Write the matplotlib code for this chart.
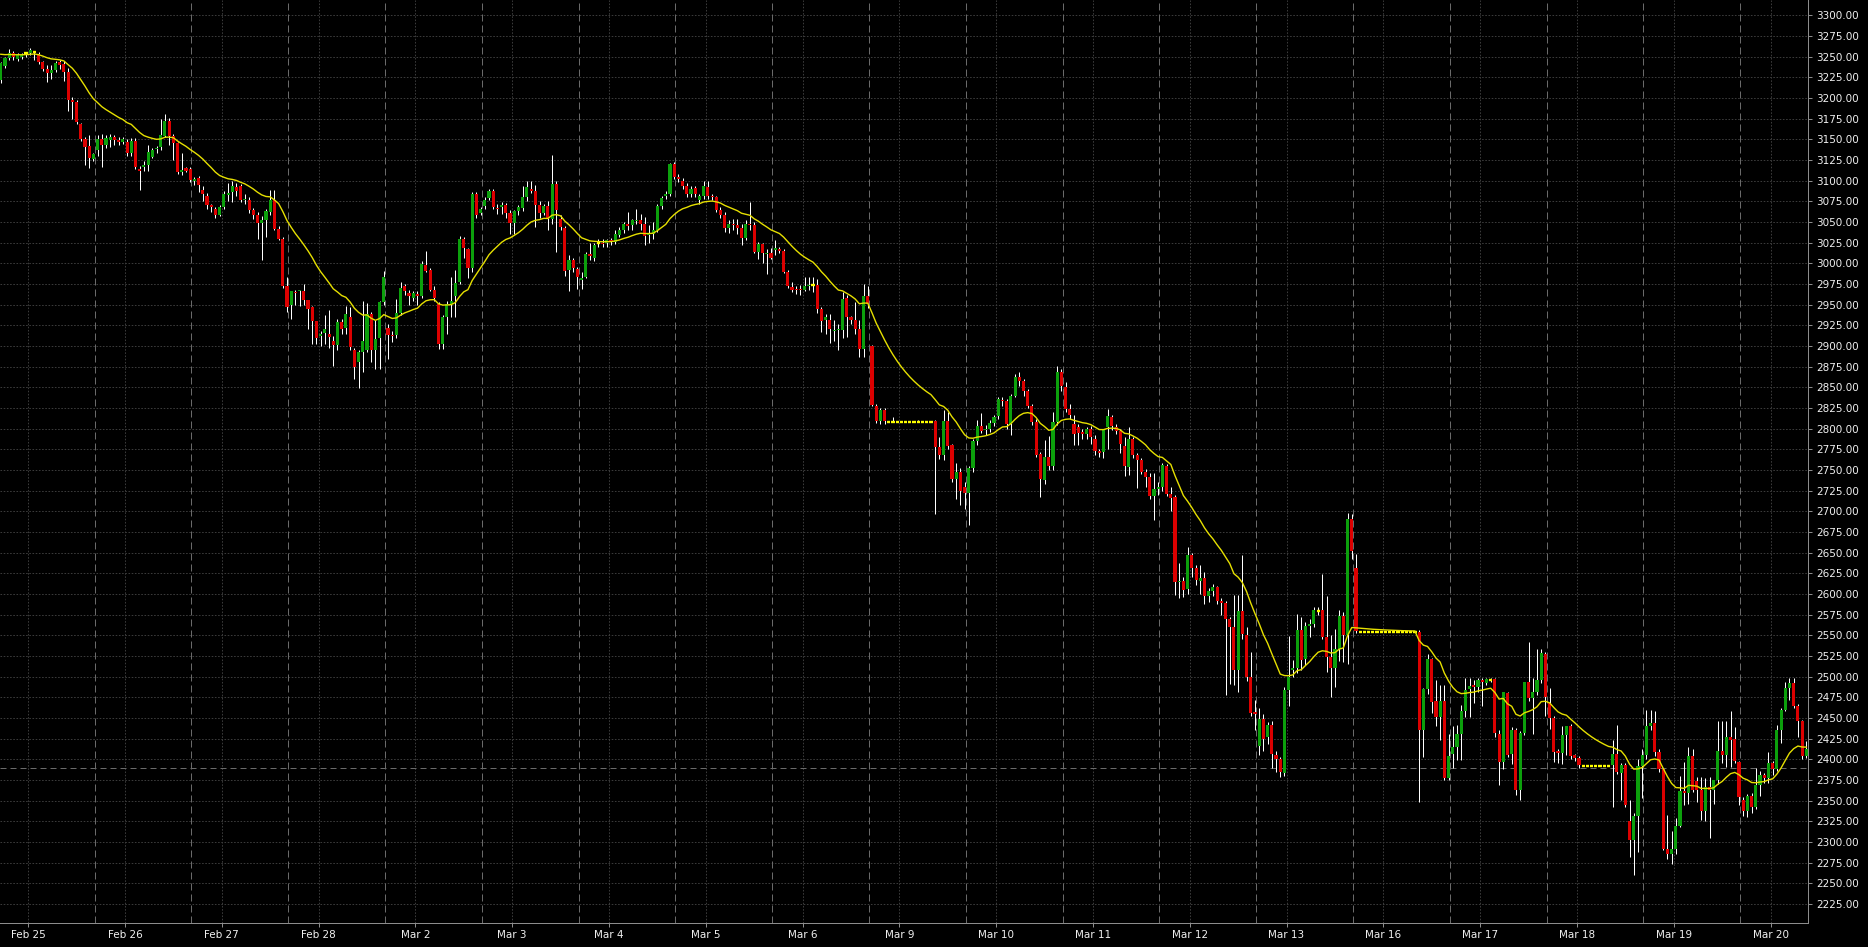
import numpy as np
import matplotlib
matplotlib.use("Agg")
import matplotlib.pyplot as plt
from matplotlib.collections import LineCollection

plt.rcParams['font.family'] = ['DejaVu Sans']
plt.rcParams['lines.scale_dashes'] = False

# ---------------- data (hourly bars, 23 per session) ----------------
day_labels = ["Feb 25", "Feb 26", "Feb 27", "Feb 28", "Mar 2", "Mar 3", "Mar 4",
              "Mar 5", "Mar 6", "Mar 9", "Mar 10", "Mar 11", "Mar 12", "Mar 13",
              "Mar 16", "Mar 17", "Mar 18", "Mar 19", "Mar 20"]
bars_per_day = 23

F1 = [2808.3] * 11
F2 = [2554] * 14
F3 = [2392.3] * 7

open_ = (
    [3222,3239,3248,3254,3247,3249,3254,3254,3255,3253,3243,3235,3230,3234,3243,3241,3231,3198,3195,3169,3150,3142,3126] +
    [3137,3150,3143,3149,3153,3149,3147,3147,3133,3148,3114,3116,3119,3129,3138,3141,3154,3172,3154,3145,3111,3115,3114] +
    [3100,3103,3089,3082,3070,3066,3058,3068,3083,3086,3092,3093,3076,3077,3065,3059,3049,3052,3062,3076,3042,3030,2972] +
    [2950,2965,2966,2967,2956,2947,2930,2912,2916,2915,2906,2901,2929,2922,2935,2895,2881,2893,2895,2939,2895,2910,2953] +
    [2922,2913,2913,2940,2972,2964,2958,2963,2960,2998,2992,2968,2951,2903,2935,2951,2960,2978,3029,3017,2994,3084,3061] +
    [3069,3079,3087,3067,3068,3071,3061,3049,3063,3067,3080,3090,3088,3070,3061,3069,3053,3096,3053,3043,2992,3004,2993] +
    [2980,2984,3011,3007,3024,3025,3024,3028,3026,3034,3040,3047,3046,3051,3052,3047,3034,3036,3040,3069,3082,3084,3120] +
    [3104,3099,3094,3084,3091,3077,3082,3092,3082,3080,3065,3059,3043,3047,3046,3043,3031,3048,3046,3014,3023,3011,3013] +
    [3016,3017,3015,2990,2971,2969,2969,2968,2972,2974,2974,2945,2932,2932,2918,2919,2919,2958,2935,2931,2920,2896,2960] +
    [2900,2828,2809,2822] + F1 + [2809,2778,2768,2809,2780,2739,2748,2730] +
    [2722,2752,2785,2803,2798,2800,2807,2815,2835,2833,2806,2840,2862,2858,2845,2827,2808,2769,2738,2766,2755,2808,2868] +
    [2850,2824,2806,2802,2796,2794,2799,2788,2773,2772,2802,2814,2802,2797,2779,2754,2787,2768,2762,2748,2742,2718,2727] +
    [2730,2755,2721,2717,2614,2616,2606,2647,2632,2616,2619,2597,2604,2608,2591,2589,2570,2560,2508,2580,2550,2500,2457] +
    [2416,2449,2427,2442,2405,2400,2383,2484,2508,2510,2556,2521,2561,2564,2580,2581,2548,2524,2510,2533,2573,2550,2691] +
    [2631] + F2 + [2554,2435,2485,2521,2470,2451,2471,2377] +
    [2406,2415,2431,2458,2485,2490,2487,2496,2492,2496,2497,2431,2397,2480,2406,2436,2363,2432,2493,2474,2481,2496,2528] +
    [2468,2450,2410,2408,2429,2440,2405,2402] + F3 + [2393,2406,2384,2393,2326,2302,2331,2392] +
    [2405,2440,2444,2409,2388,2292,2285,2292,2319,2362,2359,2404,2374,2363,2338,2366,2363,2375,2410,2405,2427,2425,2397] +
    [2351,2337,2356,2342,2369,2381,2377,2395,2388,2436,2460,2486,2492,2464,2446,2404]
)

high = (
    [3244,3250,3259,3257,3254,3254,3256,3260,3257,3255,3245,3240,3240,3245,3246,3245,3236,3201,3197,3170,3153,3155,3134] +
    [3155,3157,3155,3157,3155,3153,3153,3150,3151,3151,3118,3124,3143,3140,3142,3174,3181,3176,3157,3147,3133,3117,3116] +
    [3104,3106,3093,3085,3072,3068,3070,3087,3097,3099,3097,3096,3084,3080,3067,3062,3057,3066,3089,3089,3045,3032,2984] +
    [2967,2968,2968,2975,2956,2948,2930,2918,2938,2944,2912,2933,2933,2948,2947,2897,2895,2954,2952,2941,2932,2955,2991] +
    [2927,2918,2957,2978,2975,2968,2966,2966,3003,3015,2994,2972,2953,2938,2955,2984,2992,3033,3032,3018,3086,3086,3068] +
    [3080,3090,3090,3072,3074,3073,3065,3065,3070,3093,3100,3100,3095,3075,3072,3075,3131,3099,3058,3045,3010,3006,2995] +
    [2990,3014,3024,3025,3030,3029,3030,3031,3040,3044,3050,3062,3054,3066,3060,3056,3046,3050,3072,3082,3088,3121,3122] +
    [3108,3103,3097,3094,3094,3084,3100,3100,3084,3082,3068,3062,3052,3054,3053,3048,3052,3074,3050,3026,3025,3017,3018] +
    [3028,3020,3017,2992,2978,2972,2974,2984,2984,2984,2981,2947,2939,2939,2932,2927,2965,2962,2936,2953,2932,2975,2972] +
    [2901,2830,2825,2825] + [2808.3,2814,2808.3,2808.3,2808.3,2808.3,2808.3,2811,2808.3,2808.3,2808.3] +
    [2810,2790,2823,2820,2782,2759,2752,2735] +
    [2755,2788,2811,2819,2805,2810,2817,2838,2838,2836,2842,2866,2868,2860,2848,2830,2812,2772,2786,2791,2820,2876,2872] +
    [2856,2830,2817,2806,2800,2802,2803,2792,2776,2800,2824,2816,2806,2800,2790,2802,2790,2771,2764,2751,2746,2746,2736] +
    [2758,2757,2730,2720,2637,2620,2657,2650,2635,2635,2627,2607,2612,2610,2595,2592,2572,2599,2599,2647,2560,2530,2472] +
    [2462,2455,2445,2446,2410,2403,2488,2549,2520,2576,2572,2566,2570,2584,2584,2624,2597,2550,2558,2581,2578,2698,2697] +
    [2649] + F2 + [2556,2486,2527,2523,2496,2490,2490,2431] +
    [2440,2441,2466,2498,2498,2496,2499,2498,2499,2499,2498,2435,2482,2482,2439,2438,2434,2494,2542,2498,2533,2534,2530] +
    [2486,2452,2412,2440,2440,2443,2407,2404] + F3 + [2424,2442,2396,2396,2351,2335,2401,2413] +
    [2460,2460,2458,2412,2389,2333,2313,2329,2380,2397,2415,2412,2379,2379,2377,2379,2375,2447,2446,2446,2458,2439,2398] +
    [2355,2358,2359,2389,2386,2384,2409,2398,2442,2462,2494,2498,2498,2467,2448,2422]
)

low = (
    [3218,3236,3246,3246,3245,3247,3250,3252,3246,3241,3233,3219,3223,3231,3235,3220,3184,3175,3169,3148,3119,3115,3124] +
    [3130,3117,3140,3141,3143,3143,3144,3130,3130,3114,3089,3112,3112,3127,3134,3137,3153,3143,3125,3108,3107,3110,3098] +
    [3095,3086,3075,3066,3062,3055,3057,3066,3075,3074,3082,3074,3072,3061,3053,3030,3004,3032,3058,3040,3028,2970,2941] +
    [2933,2950,2948,2949,2921,2903,2903,2900,2902,2897,2876,2895,2914,2914,2895,2860,2849,2868,2893,2881,2872,2872,2950] +
    [2884,2905,2910,2938,2962,2950,2954,2950,2958,2990,2966,2954,2896,2896,2915,2935,2935,2975,3007,2982,2990,3055,3058] +
    [3066,3077,3066,3060,3060,3055,3036,3036,3058,3063,3075,3085,3044,3055,3058,3040,3048,3014,3040,2985,2966,2990,2969] +
    [2969,2982,3004,3003,3020,3020,3020,3022,3023,3032,3037,3040,3040,3048,3040,3022,3025,3030,3038,3066,3078,3082,3102] +
    [3098,3090,3080,3080,3080,3072,3078,3078,3076,3062,3055,3038,3037,3040,3035,3022,3028,3040,3012,3005,3000,2987,3005] +
    [3010,3012,2988,2970,2965,2963,2962,2966,2968,2965,2940,2917,2915,2904,2906,2895,2910,2911,2926,2915,2887,2887,2946] +
    [2828,2807,2806,2806] + F1 + [2697,2763,2762,2775,2735,2715,2708,2703] +
    [2683,2748,2780,2795,2792,2796,2803,2812,2828,2800,2792,2838,2852,2840,2825,2805,2766,2717,2733,2750,2750,2805,2845] +
    [2820,2812,2780,2780,2787,2788,2781,2768,2766,2765,2776,2798,2793,2770,2743,2744,2765,2728,2745,2729,2715,2689,2720] +
    [2725,2718,2701,2599,2595,2596,2600,2620,2611,2600,2588,2590,2598,2588,2575,2478,2491,2490,2482,2545,2495,2452,2435] +
    [2405,2410,2418,2389,2385,2379,2380,2464,2500,2505,2508,2514,2548,2560,2575,2545,2506,2476,2488,2519,2518,2515,2642] +
    [2553] + F2 + [2349,2403,2479,2456,2440,2424,2375,2375] +
    [2389,2399,2399,2451,2451,2468,2482,2464,2490,2493,2427,2369,2388,2403,2394,2357,2351,2430,2470,2431,2478,2492,2453] +
    [2437,2397,2396,2394,2405,2400,2398,2390] + F3 + [2342,2382,2351,2342,2282,2260,2288,2353] +
    [2400,2435,2404,2385,2290,2279,2274,2286,2318,2345,2346,2360,2349,2327,2326,2305,2346,2370,2395,2391,2391,2396,2345] +
    [2331,2330,2335,2340,2356,2372,2371,2381,2386,2420,2458,2472,2462,2427,2400,2402]
)

close = (
    [3242,3248,3254,3250,3252,3252,3254,3258,3255,3244,3235,3230,3234,3242,3240,3232,3197,3195,3171,3150,3141,3127,3132] +
    [3150,3143,3152,3153,3149,3147,3150,3134,3148,3116,3112,3119,3135,3137,3139,3155,3172,3154,3145,3110,3113,3112,3101] +
    [3102,3095,3084,3070,3068,3058,3068,3084,3085,3094,3088,3077,3078,3065,3059,3049,3052,3063,3076,3042,3030,2972,2947] +
    [2966,2964,2967,2956,2945,2930,2910,2915,2920,2911,2901,2929,2920,2939,2899,2875,2893,2906,2939,2895,2908,2953,2983] +
    [2913,2912,2940,2970,2966,2960,2964,2961,2999,2991,2968,2958,2903,2935,2951,2954,2976,3029,3019,2994,3084,3059,3066] +
    [3077,3088,3068,3066,3071,3061,3049,3063,3068,3080,3092,3088,3071,3061,3069,3053,3096,3065,3044,2991,3004,2994,2983] +
    [2982,3011,3009,3022,3024,3023,3028,3026,3035,3040,3047,3045,3052,3052,3047,3033,3036,3040,3069,3079,3084,3120,3105] +
    [3102,3094,3084,3090,3084,3081,3094,3081,3080,3065,3059,3043,3048,3046,3043,3031,3048,3046,3014,3023,3012,3013,3007] +
    [3018,3015,2990,2973,2968,2968,2968,2973,2974,2974,2945,2930,2935,2920,2919,2920,2957,2935,2932,2921,2896,2960,2951] +
    [2829,2809,2822,2809] + F1 + [2778,2768,2809,2779,2739,2748,2724,2722] +
    [2752,2785,2803,2797,2800,2807,2814,2836,2833,2806,2840,2862,2858,2845,2827,2808,2768,2739,2766,2755,2808,2868,2852] +
    [2824,2816,2794,2795,2794,2799,2790,2773,2771,2798,2815,2803,2797,2782,2755,2787,2768,2762,2748,2741,2718,2727,2730] +
    [2756,2721,2716,2614,2616,2605,2647,2632,2617,2619,2597,2604,2609,2591,2589,2570,2560,2508,2580,2552,2500,2456,2455] +
    [2449,2425,2442,2407,2400,2385,2484,2500,2511,2556,2520,2561,2564,2581,2580,2548,2524,2510,2533,2573,2550,2691,2652] +
    [2555] + F2 + [2435,2485,2521,2469,2451,2471,2377,2404] +
    [2415,2431,2458,2484,2489,2487,2496,2493,2497,2496,2432,2397,2481,2405,2436,2363,2432,2493,2474,2481,2496,2529,2475] +
    [2450,2409,2408,2429,2440,2404,2402,2393] + F3 + [2406,2385,2393,2345,2302,2331,2392,2405] +
    [2440,2444,2409,2388,2292,2285,2292,2319,2362,2359,2404,2363,2363,2338,2366,2363,2375,2410,2405,2427,2424,2398,2355] +
    [2337,2356,2342,2369,2381,2378,2395,2388,2436,2460,2486,2492,2464,2446,2404,2413]
)

ma_period = 20
ma_seed = 3254          # MA value at the left edge of the chart
ref_line_price = 2389   # grey dashed horizontal level
price_ticks = list(range(2225, 3301, 25))

# ---------------- drawing ----------------
o = np.array(open_, float)
c = np.array(close, float)
h = np.maximum(np.array(high, float), np.maximum(o, c))
l = np.minimum(np.array(low, float), np.minimum(o, c))
n = len(o)
x = np.arange(n)

W, H = 1868, 947
fig = plt.figure(figsize=(W / 100, H / 100), dpi=100, facecolor='black')
ax_bottom_px = 923.3
ax = fig.add_axes([0, (H - ax_bottom_px) / H, 1808 / W, ax_bottom_px / H])
ax.set_facecolor('black')
ax.set_xlim(-0.19, 429.4)
ax.set_ylim(2201.7, 3318.5)

px = 0.72  # one pixel in points
grid_col = '#3a3a3a'
sep_col = '#6a6a6a'

for p in price_ticks:
    ax.axhline(p, color=grid_col, lw=px, ls=(0, (1.6 * px, 1.6 * px)), zorder=0)

tick_pos = [bars_per_day * d + 6.5 for d in range(len(day_labels))]
for t in tick_pos:
    ax.axvline(t, color=grid_col, lw=px, ls=(0, (1.6 * px, 1.6 * px)), zorder=0)
for d in range(1, len(day_labels)):
    ax.axvline(bars_per_day * d - 0.7, color=sep_col, lw=px,
               ls=(0, (7 * px, 4 * px)), zorder=0.5)

ax.axhline(ref_line_price, color=sep_col, lw=px, ls=(0, (6 * px, 4 * px)), zorder=0.6)

# wicks
wmask = h > l
segs = [[(xi, li), (xi, hi)] for xi, li, hi in zip(x[wmask], l[wmask], h[wmask])]
lc = LineCollection(segs, colors='white', linewidths=px, zorder=2)
lc.set_snap(True)
ax.add_collection(lc)

# bodies
body_w = 0.74
minh = 1.2
up = c > o
dn = c < o
for mask, col in ((up, '#0ca00c'), (dn, '#dc0000')):
    bot = np.minimum(o[mask], c[mask])
    hgt = np.maximum(np.abs(c[mask] - o[mask]), minh)
    ax.bar(x[mask], hgt, bottom=bot, width=body_w, color=col, linewidth=0, zorder=3)

# doji bars (open == close)
dj = c == o
ax.hlines(c[dj], x[dj] - 0.38, x[dj] + 0.38, colors='#ffff00', linewidth=1.7, zorder=3.5)

# moving average (exponential)
alpha = 2.0 / (ma_period + 1)
ema = np.empty(n)
e = ma_seed
for i in range(n):
    e = e + alpha * (c[i] - e)
    ema[i] = e
ax.plot(x, ema, color='#e6e000', lw=1.0, zorder=4)

# axes styling
for s in ('top', 'left'):
    ax.spines[s].set_visible(False)
for s in ('right', 'bottom'):
    ax.spines[s].set_color('#8c8c8c')
    ax.spines[s].set_linewidth(px)

ax.yaxis.tick_right()
ax.set_yticks(price_ticks)
ax.set_yticklabels([f"{p:.2f}" for p in price_ticks])
ax.set_xticks(tick_pos)
ax.set_xticklabels(day_labels)
ax.tick_params(axis='both', colors='#8c8c8c', labelcolor='#f0f0f0', length=3,
               width=px, labelsize=7.5)
ax.tick_params(axis='y', pad=3)
ax.tick_params(axis='x', pad=2)

fig.savefig('out.png', dpi=100, facecolor='black')
